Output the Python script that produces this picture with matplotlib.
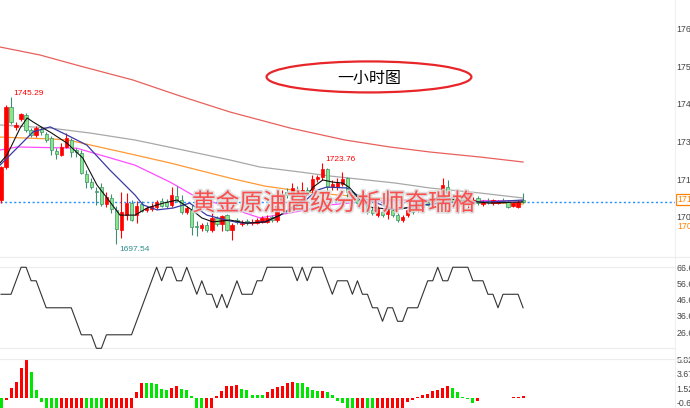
import numpy as np
import matplotlib.pyplot as plt
from matplotlib.patches import Ellipse
from matplotlib.lines import Line2D
import matplotlib.patheffects as pe

plt.rcParams['font.family'] = ['Liberation Sans', 'Noto Sans CJK SC', 'DejaVu Sans']

# ---- K线 (开 高 低 收) ----
opens = [1711.8, 1722.6, 1742.0, 1735.6, 1738.0, 1739.4, 1734.5, 1732.9, 1734.7, 1733.1,
         1731.8, 1727.8, 1726.4, 1729.1, 1731.2, 1728.0, 1726.9, 1720.1, 1717.7, 1714.7,
         1716.1, 1710.5, 1712.3, 1708.6, 1702.1, 1706.9, 1710.7, 1706.9, 1710.4, 1708.6,
         1708.9, 1709.6, 1711.6, 1711.2, 1710.2, 1713.0, 1711.8, 1708.0, 1708.6, 1703.3,
         1702.6, 1703.7, 1702.1, 1705.9, 1704.0, 1706.9, 1702.1, 1705.3, 1704.0, 1705.0,
         1704.2, 1704.4, 1704.8, 1704.8, 1706.2, 1705.2, 1710.6, 1714.4, 1712.9, 1715.2,
         1714.0, 1715.2, 1715.0, 1718.5, 1719.4, 1721.7, 1716.0, 1715.9, 1717.0, 1718.8,
         1714.5, 1711.8, 1710.4, 1710.2, 1708.5, 1706.9, 1708.0, 1707.4, 1708.6, 1706.9,
         1705.3, 1706.9, 1709.1, 1708.5, 1709.6, 1711.0, 1710.7, 1712.3, 1712.9, 1716.1,
         1712.9, 1709.1, 1712.9, 1711.3, 1711.4, 1712.3, 1710.5, 1711.6, 1710.7, 1710.8,
         1711.6, 1711.3, 1709.9, 1709.6, 1711.8]
highs = [1722.9, 1742.6, 1745.29, 1737.2, 1740.0, 1740.0, 1735.0, 1735.8, 1735.8, 1733.9,
         1732.5, 1728.6, 1730.2, 1733.4, 1731.8, 1728.6, 1727.9, 1721.4, 1718.8, 1716.0,
         1717.2, 1714.5, 1713.8, 1710.0, 1714.3, 1714.0, 1711.8, 1711.5, 1711.4, 1709.8,
         1710.8, 1711.7, 1712.3, 1712.0, 1716.1, 1716.5, 1713.5, 1710.0, 1710.2, 1705.0,
         1704.5, 1704.8, 1707.5, 1706.5, 1706.9, 1707.4, 1704.5, 1706.0, 1705.2, 1705.6,
         1705.5, 1706.0, 1706.6, 1706.8, 1707.0, 1710.5, 1714.9, 1715.7, 1717.2, 1716.2,
         1717.7, 1716.0, 1719.9, 1720.0, 1723.76, 1722.2, 1718.3, 1718.8, 1721.0, 1719.4,
         1715.0, 1712.8, 1712.2, 1711.0, 1709.4, 1710.0, 1708.9, 1710.2, 1709.2, 1707.6,
         1707.0, 1709.6, 1709.9, 1710.0, 1712.0, 1711.8, 1714.0, 1714.2, 1718.8, 1718.3,
         1713.6, 1711.8, 1713.6, 1715.0, 1712.7, 1713.0, 1711.7, 1712.5, 1712.2, 1711.9,
         1712.3, 1711.9, 1711.2, 1711.9, 1714.0]
lows = [1710.7, 1722.0, 1736.6, 1734.5, 1737.3, 1733.8, 1732.2, 1732.2, 1733.0, 1730.5,
        1726.4, 1725.1, 1726.1, 1728.5, 1725.8, 1725.9, 1720.2, 1715.6, 1715.5, 1710.2,
        1710.0, 1709.6, 1707.5, 1697.54, 1699.5, 1705.3, 1704.9, 1704.5, 1707.9, 1707.8,
        1708.2, 1709.0, 1709.4, 1709.2, 1709.6, 1711.0, 1707.4, 1707.2, 1700.4, 1700.0,
        1701.7, 1701.5, 1701.3, 1703.5, 1701.7, 1701.6, 1698.8, 1703.9, 1703.3, 1703.8,
        1703.6, 1703.9, 1704.2, 1704.2, 1704.6, 1704.8, 1709.9, 1712.6, 1712.0, 1713.2,
        1711.8, 1713.8, 1714.0, 1717.6, 1718.4, 1714.0, 1715.2, 1715.0, 1716.3, 1712.9,
        1711.8, 1710.0, 1709.6, 1707.4, 1706.8, 1706.2, 1706.2, 1705.8, 1706.3, 1704.8,
        1704.7, 1706.3, 1707.4, 1708.0, 1709.0, 1709.8, 1709.6, 1711.8, 1712.4, 1713.5,
        1710.8, 1707.5, 1711.2, 1708.5, 1710.6, 1710.2, 1710.0, 1710.6, 1710.2, 1710.4,
        1710.9, 1709.2, 1709.4, 1709.2, 1710.8]
closes = [1722.6, 1742.0, 1737.2, 1736.1, 1739.6, 1734.5, 1732.9, 1735.0, 1733.9, 1731.2,
          1728.0, 1726.7, 1729.1, 1731.8, 1727.5, 1727.3, 1720.5, 1717.7, 1716.1, 1714.3,
          1710.4, 1712.9, 1708.9, 1702.4, 1708.0, 1710.7, 1705.3, 1709.8, 1708.4, 1709.2,
          1710.0, 1711.0, 1710.0, 1709.8, 1713.4, 1711.5, 1708.0, 1709.1, 1703.1, 1702.9,
          1703.7, 1702.1, 1705.9, 1704.0, 1706.6, 1702.1, 1703.7, 1704.7, 1704.4, 1704.3,
          1704.8, 1705.3, 1705.9, 1706.0, 1705.2, 1710.0, 1713.9, 1713.3, 1715.6, 1713.9,
          1715.0, 1714.4, 1718.5, 1719.4, 1721.7, 1716.1, 1717.0, 1717.2, 1718.5, 1714.5,
          1712.3, 1710.7, 1711.4, 1708.0, 1707.7, 1709.1, 1706.9, 1708.6, 1706.9, 1705.3,
          1706.4, 1708.6, 1708.0, 1709.4, 1711.3, 1710.3, 1712.3, 1713.4, 1716.7, 1714.0,
          1711.3, 1711.3, 1711.8, 1713.5, 1711.8, 1710.7, 1711.3, 1711.0, 1711.8, 1711.4,
          1711.1, 1709.6, 1710.8, 1711.3, 1711.1]

# ---- 均线 (取样点: K线序号, 价格) ----
ma_red_x = [-0.2, 7.77, 15.74, 26.3, 35.66, 45.62, 57.57, 68.53, 77.49, 85.46, 95.42, 104]
ma_red_y = [1761.40, 1758.81, 1755.24, 1750.70, 1745.52, 1740.33, 1735.14, 1731.25,
            1728.98, 1727.36, 1725.74, 1724.12]
ma_gray_x = [-0.2, 9.76, 17.73, 26.69, 36.25, 45.62, 51.59, 59.56, 65.54, 78.49, 85.46,
             95.42, 104]
ma_gray_y = [1736.12, 1735.14, 1733.52, 1731.25, 1728.01, 1724.77, 1722.50, 1720.88,
             1719.58, 1717.31, 1715.69, 1714.07, 1712.45]
ma_orange_x = [-0.2, 9.8, 13.2, 26.7, 33.7, 45.6, 52.6, 62.2, 79.5, 104]
ma_orange_y = [1732.2, 1731.6, 1731.3, 1726.4, 1723.8, 1718.9, 1716.3, 1714.1, 1711.8, 1710.5]
ma_mag_x = [-0.2, 3.2, 15.1, 26.7, 33.7, 38.2, 45.6, 51.6, 57.6, 65.5, 73.5, 85.5, 104]
ma_mag_y = [1728.0, 1729.0, 1728.6, 1723.1, 1717.6, 1713.4, 1709.2, 1706.0, 1707.6, 1710.2,
            1711.5, 1711.8, 1711.5]
ma_navy_x = [-0.2, 6.4, 9.8, 13.1, 17.1, 21.7, 26.7, 28.3, 31.1, 34.3, 37.6, 41.0, 45.6, 48.2,
             52.6, 55.6, 59.6, 63.0, 64.9, 68.9, 71.5, 74.9, 78.5, 84.1, 90.8, 97.4, 104]
ma_navy_y = [1723.1, 1733.9, 1735.5, 1732.9, 1729.6, 1721.5, 1713.4, 1710.2, 1708.6, 1709.2,
             1710.8, 1706.9, 1705.0, 1704.3, 1704.7, 1706.9, 1710.2, 1715.0, 1716.0, 1715.7,
             1712.8, 1710.8, 1708.6, 1710.2, 1711.2, 1711.2, 1711.8]
ma_black_x = [-0.2, 1.2, 3.8, 5.2, 6.4, 8.4, 9.8, 13.1, 16.3, 19.1, 21.1, 23.7, 26.7, 29.1,
              32.3, 35.1, 38.0, 40.0, 42.2, 45.6, 49.0, 52.6, 55.6, 60.2, 62.2, 64.1, 66.1,
              68.1, 69.5, 71.5, 73.5, 78.5, 81.5, 87.5, 90.8, 97.4, 104]
ma_black_y = [1723.8, 1726.4, 1735.1, 1738.4, 1737.1, 1735.1, 1733.8, 1730.3, 1725.4, 1716.7,
              1712.5, 1706.9, 1706.9, 1709.2, 1710.8, 1711.8, 1708.6, 1706.0, 1704.7, 1705.3,
              1704.3, 1704.7, 1706.9, 1711.8, 1716.0, 1718.3, 1717.6, 1717.3, 1715.7, 1711.8,
              1709.5, 1708.6, 1709.5, 1712.8, 1711.8, 1710.8, 1711.2]

last_price = 1711.10
price_ticks = [1767.40, 1755.20, 1743.00, 1730.80, 1718.60, 1706.40]

# ---- 副图指标 ----
ind_vals = [50.00, 50.00, 50.00, 58.33, 66.67, 66.67, 58.33, 58.33, 50.00, 41.67,
            41.67, 41.67, 41.67, 41.67, 41.67, 33.33, 25.00, 25.00, 25.00, 16.67,
            16.67, 25.00, 25.00, 25.00, 25.00, 25.00, 25.00, 33.33, 41.67, 50.00,
            58.33, 66.67, 58.33, 66.67, 66.67, 58.33, 58.33, 66.67, 58.33, 50.00,
            58.33, 50.00, 50.00, 41.67, 50.00, 41.67, 50.00, 58.33, 50.00, 50.00,
            50.00, 58.33, 58.33, 66.67, 66.67, 66.67, 66.67, 66.67, 66.67, 58.33,
            66.67, 58.33, 66.67, 66.67, 66.67, 58.33, 50.00, 58.33, 58.33, 58.33,
            50.00, 58.33, 50.00, 50.00, 41.67, 41.67, 33.33, 41.67, 41.67, 33.33,
            33.33, 41.67, 41.67, 41.67, 50.00, 58.33, 58.33, 66.67, 58.33, 58.33,
            66.67, 66.67, 66.67, 66.67, 58.33, 58.33, 58.33, 50.00, 50.00, 41.67,
            50.00, 50.00, 50.00, 50.00, 41.67]
ind_ticks = [66.66, 56.66, 46.66, 36.66, 26.66]

# ---- MACD 柱 ----
macd_vals = [-2.0, -0.2, 1.6, 2.4, 4.6, 5.82, 4.0, 1.2, -0.5, -2.0,
             -2.0, -2.0, -2.0, -2.0, -2.0, -2.0, -2.0, -2.0, -2.0, -2.0,
             -2.0, -2.0, -2.0, -2.0, -2.0, -2.0, -2.0, 1.0, 2.3, 2.3,
             2.3, 2.2, 1.45, 1.2, 1.6, 1.8, 1.45, 1.3, 0.35, -2.0,
             -2.0, -2.0, -2.0, 0.35, 1.05, 1.9, 1.9, 2.0, 1.45, 1.2,
             0.45, 0.45, 0.45, 1.0, 1.4, 1.65, 1.9, 2.25, 2.5, 2.3,
             2.3, 1.65, 1.2, 1.05, 1.05, 0.95, 0.45, -0.3, -0.7, -2.0,
             -2.0, -2.0, -2.0, -2.0, -2.0, -2.0, -2.0, -2.0, -2.0, -2.0,
             -2.0, -0.5, -0.2, 0.2, 0.55, 0.7, 1.05, 1.3, 1.55, 1.8,
             1.55, 0.95, 0.2, -0.1, -0.6, -0.4, 0.05, 0.05, 0.05, 0.05,
             0.05, 0.05, 0.2, 0.25, 0.3]
macd_cols = ('grrrrrgggg' 'ggrrrrrggg' 'grrrrrrrrg' 'ggggrrgggg' 'grrrrrrrgg'
             'gggrrrrrrg' 'ggggrggggg' 'grrggrrrrr' 'rrrrrrrrrr' 'gggggrrrgg'
             'ggrrr')
macd_ticks = [5.82, 3.67, 1.52, -0.63]

RED = '#ff0000'
GREEN_FACE = '#86e886'
GREEN_EDGE = '#3f8f6f'

W, H = 690, 408
fig = plt.figure(figsize=(W / 100, H / 100), dpi=100)
x_right = 675 / W
xlim = (-0.2, 134.26)

ax = fig.add_axes([0, 1 - 256 / H, x_right, 256 / H])
ax2 = fig.add_axes([0, 1 - 358 / H, x_right, 101 / H])
ax3 = fig.add_axes([0, 0, x_right, 49 / H])

for a in (ax, ax2, ax3):
    a.set_xlim(*xlim)
    a.set_xticks([])
    for s in a.spines.values():
        s.set_visible(False)
    a.yaxis.tick_right()
    a.tick_params(axis='y', length=0, pad=1.0, labelsize=6.3, colors='#444444')
    a.patch.set_alpha(0)

# ---- 主图 ----
ax.set_ylim(1693.65, 1776.64)
idx = np.arange(len(opens))
o = np.array(opens); c = np.array(closes); hi = np.array(highs); lo = np.array(lows)
up = c >= o
ax.vlines(idx[up], lo[up], hi[up], color=RED, lw=0.8, zorder=2)
ax.vlines(idx[~up], lo[~up], hi[~up], color=GREEN_EDGE, lw=0.8, zorder=2)
body_lo = np.minimum(o, c)
body_h = np.maximum(np.abs(c - o), 0.3)
ax.bar(idx[up], body_h[up], bottom=body_lo[up], width=0.66, color=RED,
       edgecolor=RED, lw=0.5, zorder=3)
ax.bar(idx[~up], body_h[~up], bottom=body_lo[~up], width=0.66, color=GREEN_FACE,
       edgecolor=GREEN_EDGE, lw=0.5, zorder=3)

ax.plot(ma_red_x, ma_red_y, color='#e8605c', lw=0.9, zorder=1)
ax.plot(ma_gray_x, ma_gray_y, color='#a8a8a8', lw=0.9, zorder=1)
ax.plot(ma_orange_x, ma_orange_y, color='#ff9933', lw=0.9, zorder=1)
ax.plot(ma_mag_x, ma_mag_y, color='#ff4cff', lw=0.9, zorder=1)
ax.plot(ma_navy_x, ma_navy_y, color='#3a3aa8', lw=0.9, zorder=4)
ax.plot(ma_black_x, ma_black_y, color='#111111', lw=0.8, zorder=4)

ax.axhline(last_price, color='#1f8fff', lw=1.0, ls=(0, (1.5, 1.8)), zorder=1)

ax.set_yticks(price_ticks)
ax.set_yticklabels(['%.2f' % v for v in price_ticks])

# 最高 / 最低 标注
i_hi = int(np.argmax(hi))
ax.text(i_hi + 0.5, hi[i_hi], '%.2f' % hi[i_hi], color=RED, fontsize=6,
        ha='left', va='bottom', zorder=6)
i_hi2 = 64
ax.text(i_hi2 + 0.6, hi[i_hi2], '%.2f' % hi[i_hi2], color=RED, fontsize=6,
        ha='left', va='bottom', zorder=6)
i_lo = int(np.argmin(lo))
ax.text(i_lo + 0.5, lo[i_lo] - 0.6, '%.2f' % lo[i_lo], color='#2f8c8c', fontsize=6,
        ha='left', va='top', zorder=6)

# 当前价格标签
ax.text(676 / 5.02, last_price + 0.9, '%.2f' % last_price, color='#ff8000', fontsize=6.3,
        ha='left', va='center', clip_on=False, zorder=6,
        bbox=dict(boxstyle='square,pad=0.15', fc='white', ec='#ff8000', lw=0.9))
ax.text(676.5 / 5.02, 1703.14, '1703.14', color='#ff8000', fontsize=6.3,
        ha='left', va='center', clip_on=False)

# 标题椭圆
ax.add_patch(Ellipse((73.3, 1751.7), 40.8, 10.05, fill=False, ec='#e8262a', lw=1.6, zorder=6))
ax.text(73.3, 1751.2, '一小时图', fontsize=11.5, color='black', ha='center', va='center',
        family=['Noto Sans CJK SC', 'DejaVu Sans'], zorder=7)

# 水印
ax.text(66.3, 1710.6, '黄金原油高级分析师奋瑞格', fontsize=17, color='#ff3a3a',
        ha='center', va='center', family=['Noto Sans CJK SC', 'DejaVu Sans'],
        fontweight='light', alpha=0.85, zorder=8,
        path_effects=[pe.withStroke(linewidth=2.5, foreground=(0.86, 0.86, 0.86, 0.5))])

# ---- 副图 ----
ax2.set_ylim(10.68, 73.0)
ax2.axhline(66.67, color='#ececec', lw=0.8, zorder=0)
ax2.axhline(16.67, color='#ececec', lw=0.8, zorder=0)
ax2.plot(idx, ind_vals, color='#333333', lw=0.8)
ax2.set_yticks(ind_ticks)
ax2.set_yticklabels(['%.2f' % v for v in ind_ticks])

# ---- MACD ----
ax3.set_ylim(-1.42, 5.9)
cols = [RED if k == 'r' else '#00e600' for k in macd_cols]
ax3.bar(idx, macd_vals, width=0.6, color=cols, lw=0)
ax3.set_yticks(macd_ticks)
ax3.set_yticklabels(['%.2f' % v for v in macd_ticks])

# 分隔线
for yy in (256.5, 358.5):
    fig.add_artist(Line2D([0, 1], [1 - yy / H, 1 - yy / H], color='#ececec', lw=0.8))
fig.add_artist(Line2D([x_right, x_right], [0, 1], color='#f0f0f0', lw=0.8))

fig.savefig('out.png', dpi=100)
